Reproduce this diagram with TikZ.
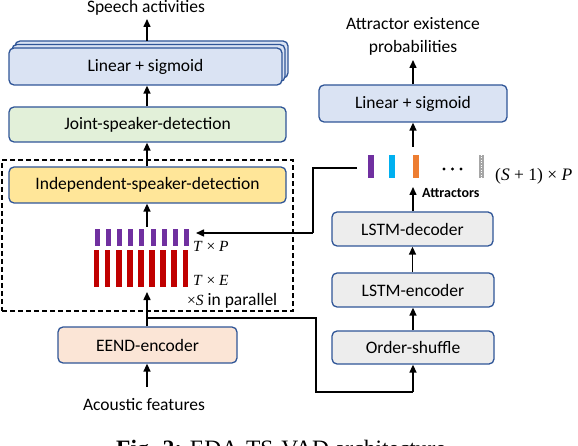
\documentclass[tikz,border=0pt]{standalone}
\usepackage{fontspec}
\setmainfont{Carlito}
\newfontfamily\tms{Liberation Serif}
\usetikzlibrary{arrows.meta}
\definecolor{bdr}{HTML}{2F5597}
\definecolor{fblue}{HTML}{DAE3F3}
\definecolor{fgreen}{HTML}{E2F0D9}
\definecolor{fyellow}{HTML}{FFE699}
\definecolor{fpeach}{HTML}{FBE5D6}
\definecolor{fgray}{HTML}{EDEDED}
\definecolor{cpurple}{HTML}{7030A0}
\definecolor{cred}{HTML}{C00000}
\definecolor{cblue}{HTML}{00B0F0}
\definecolor{corange}{HTML}{ED7D31}
\definecolor{cgray}{HTML}{A6A6A6}
\tikzset{
  box/.style={draw=bdr, line width=1.3pt, rounded corners=5pt, inner sep=0pt,
    font=\fontsize{17.5}{20}\selectfont},
  lbl/.style={inner sep=0pt, font=\fontsize{17.5}{21}\selectfont, align=center},
  mth/.style={inner sep=0pt, font=\tms\fontsize{15.5}{18}\selectfont},
  arr/.style={line width=1.5pt, -{Triangle[length=8pt,width=7pt]}},
  ln/.style={line width=1.5pt},
  bar/.style={inner sep=0pt, draw=none},
  dot/.style={circle, fill=black, inner sep=0pt, minimum size=3.4pt},
}
\begin{document}
\begin{tikzpicture}[x=1pt,y=-1pt]
\useasboundingbox (0,0) rectangle (578,446);
\clip (0,0) rectangle (578,446);

% ---------- left column ----------
\node[lbl] (speech) at (146,8) {Speech activities};
\node[box, fill=fblue, minimum width=273pt, minimum height=37pt] (lin3) at (151.5,59.5) {};
\node[box, fill=fblue, minimum width=273pt, minimum height=37pt] (lin2) at (148.5,63) {};
\node[box, fill=fblue, minimum width=273pt, minimum height=37pt] (lin) at (145.5,66.5) {Linear + sigmoid};
\node[box, fill=fgreen, minimum width=277pt, minimum height=35pt] (joint) at (147.5,124.5) {Joint-speaker-detection};
\node[box, fill=fyellow, minimum width=277pt, minimum height=36pt] (indep) at (147.5,185) {Independent-speaker-detection};

% dashed frame
\node[draw, dashed, dash pattern=on 5pt off 3pt, line width=1.3pt, inner sep=0pt,
  minimum width=291pt, minimum height=151pt] (frame) at (147.5,235.5) {};

% bars
\foreach \i in {0,...,8}{
  \node[bar, fill=cpurple, minimum width=5pt, minimum height=17pt] (p\i) at ({97.5+11.1*\i},237.5) {};
  \node[bar, fill=cred, minimum width=5.6pt, minimum height=37pt] (r\i) at ({96.5+11.1*\i},268.5) {};
}
\node[mth, anchor=west] (tp) at (193,246) {\itshape T\/\upshape\ × \itshape P};
\node[mth, anchor=west] (te) at (193,280) {\itshape T\/\upshape\ × \itshape E};
\node[anchor=west, inner sep=0pt] (par) at (187,301)
  {{\tms\fontsize{15.5}{18}\selectfont ×\itshape S}\fontsize{17.5}{20}\selectfont\ in parallel};

\node[box, fill=fpeach, minimum width=179pt, minimum height=36pt] (eend) at (147.5,345) {EEND-encoder};
\node[lbl] (acou) at (144,405) {Acoustic features};

% ---------- right column ----------
\node[lbl, font=\fontsize{17.5}{23}\selectfont] (attex) at (413,36.5) {Attractor existence\\probabilities};
\node[box, fill=fblue, minimum width=188pt, minimum height=37pt] (rlin) at (413,103.5) {Linear + sigmoid};

\node[bar, fill=cpurple, minimum width=6pt, minimum height=23pt] (a1) at (371,166.5) {};
\node[bar, fill=cblue, minimum width=6pt, minimum height=23pt] (a2) at (392,166.5) {};
\node[bar, fill=corange, minimum width=6pt, minimum height=23pt] (a3) at (416,166.5) {};
\node[bar, fill=cgray, minimum width=5.5pt, minimum height=23pt] (a4) at (481.5,166.5) {};
\draw[white, line width=0.8pt, dash pattern=on 1pt off 1.5pt] (a4.north) -- (a4.south);
\node[dot] (d1) at (444,169) {};
\node[dot] (d2) at (452.5,169) {};
\node[dot] (d3) at (461,169) {};
\node[mth, anchor=west, font=\tms\fontsize{17.5}{20}\selectfont] (sp) at (495,176) {(\itshape S\upshape\ + 1) × \itshape P};
\node[anchor=west, inner sep=0pt, font=\bfseries\fontsize{14}{16}\selectfont] (attr) at (422,193) {Attractors};

\node[box, fill=fgray, minimum width=161pt, minimum height=34pt] (dec) at (412.5,229) {LSTM-decoder};
\node[box, fill=fgray, minimum width=162pt, minimum height=34pt] (enc) at (413,290) {LSTM-encoder};
\node[box, fill=fgray, minimum width=162pt, minimum height=33pt] (shuf) at (413,347.5) {Order-shuffle};

% ---------- coordinates ----------
\coordinate (lintop) at (147,41);
\coordinate (spbot) at (147,19);
\coordinate (barstop) at (147,227);
\coordinate (barsbot) at (147,292);
\coordinate (acoutop) at (147,387);
\coordinate (branch) at (147,318);
\coordinate (b1) at (316,318);
\coordinate (b2) at (316,392);
\coordinate (b3) at (413,392);
\coordinate (attrL) at (357,168);
\coordinate (k1) at (313,168);
\coordinate (k2) at (313,233);
\coordinate (ptip) at (196,233);
\coordinate (atop) at (413,147);
\coordinate (rtop) at (413,60);
\coordinate (attrtip) at (413,187);

% ---------- connectors ----------
\draw[arr] (lintop) -- (spbot);
\draw[arr] (joint.north -| lintop) -- (lin.south -| lintop);
\draw[arr] (indep.north -| lintop) -- (joint.south -| lintop);
\draw[arr] (barstop) -- (indep.south -| barstop);
\draw[arr] (eend.north -| barsbot) -- (barsbot);
\draw[arr] (acoutop) -- (eend.south -| acoutop);
\draw[ln] (branch) -- (b1) -- (b2) -- (b3);
\draw[arr] (b3) -- (shuf.south);
\draw[arr] (shuf.north) -- (enc.south);
\draw[arr] (enc.north -| dec.north) -- (dec.south);
\draw[arr] (dec.north -| attrtip) -- (attrtip);
\draw[arr] (atop) -- (rlin.south);
\draw[arr] (rlin.north) -- (rtop);
\draw[ln] (attrL) -- (k1) -- (k2);
\draw[arr] (k2) -- (ptip);

% caption (cut off by the page edge, as in the reference)
\node[anchor=north west, inner sep=0pt, font=\tms\fontsize{23.5}{28}\selectfont] (cap) at (116,439.5)
  {\textbf{Fig. 2:} EDA-TS-VAD architecture};
\end{tikzpicture}
\end{document}
